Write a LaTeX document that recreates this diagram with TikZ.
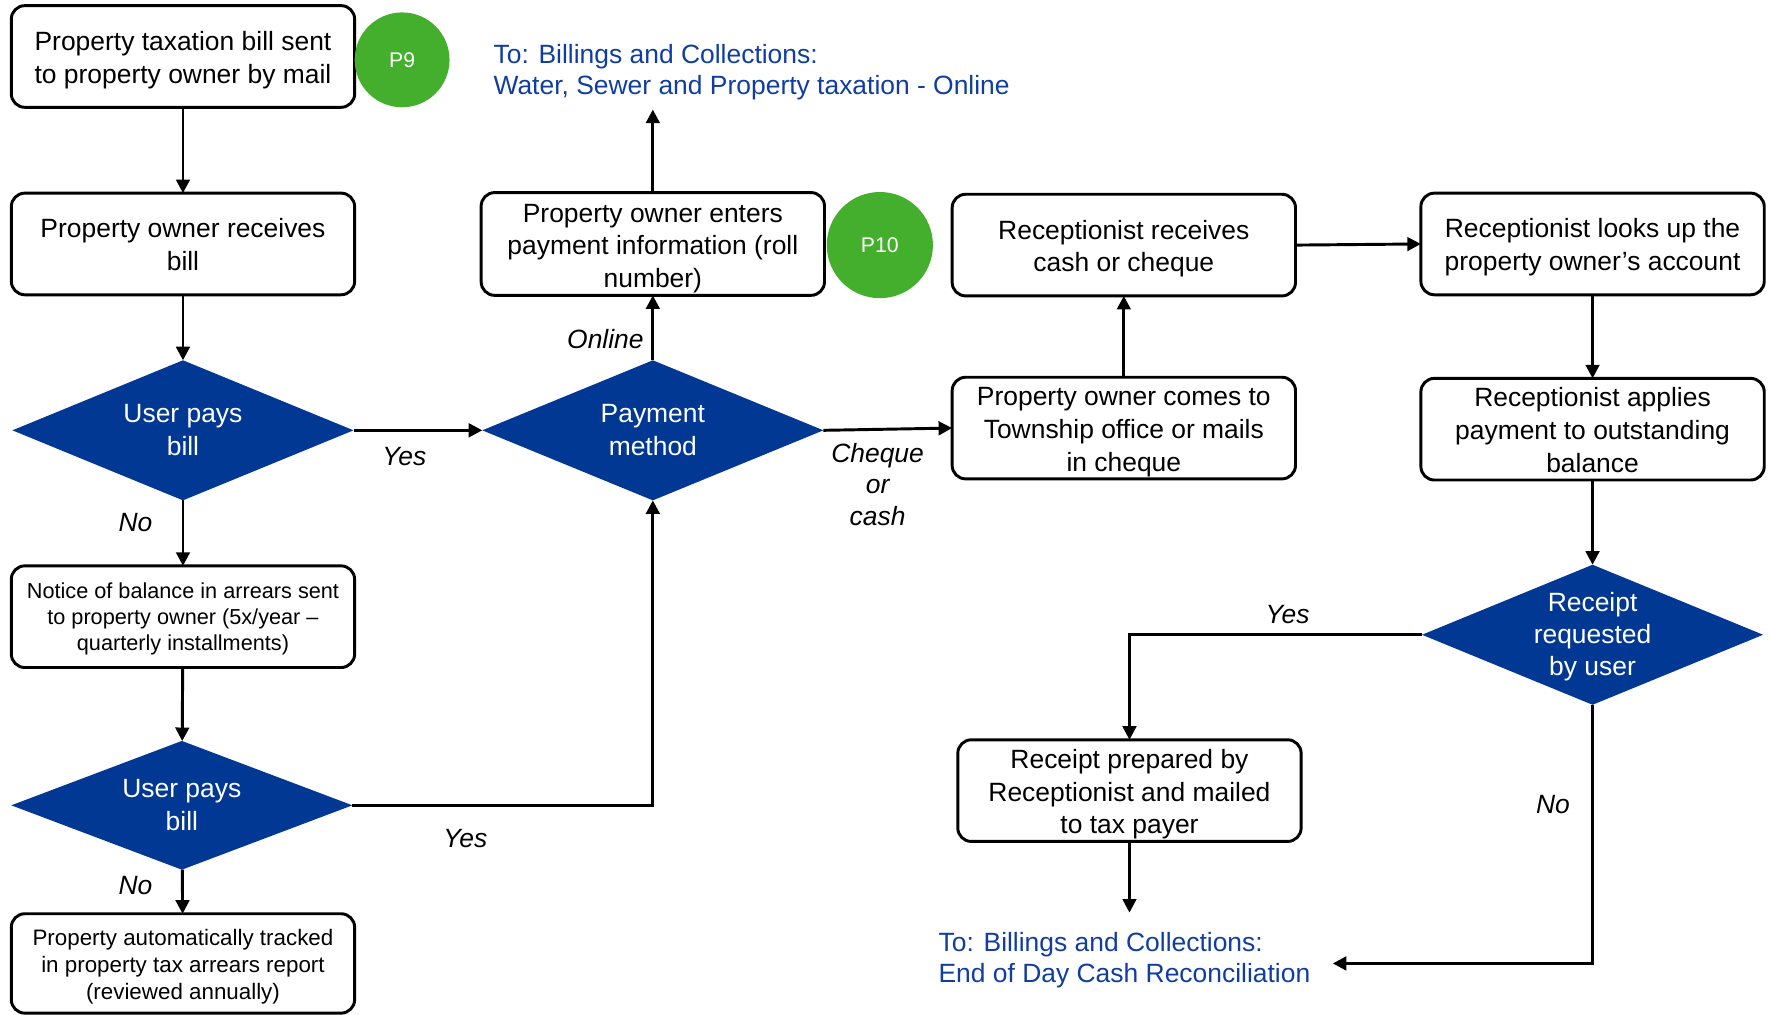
\documentclass[tikz,border=0pt]{standalone}
\usepackage{fontspec}
\setmainfont{Liberation Sans}
\usetikzlibrary{shapes.geometric,arrows.meta}
\definecolor{decblue}{RGB}{0,56,147}
\definecolor{linkblue}{RGB}{16,62,160}
\definecolor{tagreen}{RGB}{67,175,45}
% centred multi-line text, set slightly low as in a text frame
\newcommand\ml[2][1.7pt]{\raisebox{-#1}[\height][\depth]{\begin{tabular}{@{}c@{}}#2\end{tabular}}}
\begin{document}
\begin{tikzpicture}[x=0.5pt,y=-0.5pt,
  every node/.style={inner sep=0pt,outer sep=0pt},
  stepbox/.style={draw=black,line width=1.3pt,rounded corners=6pt,fill=white,
    minimum width=152pt,minimum height=45pt,
    font=\fontsize{11.7}{14.5}\selectfont},
  smallbox/.style={stepbox,font=\fontsize{9.6}{11.4}\selectfont},
  decision/.style={diamond,fill=decblue,text=white,aspect=2.4,
    minimum width=151pt,minimum height=62pt,
    font=\fontsize{11.7}{14.2}\selectfont},
  tag/.style={circle,fill=tagreen,text=white,font=\fontsize{9.4}{11}\selectfont},
  exitnote/.style={text=linkblue,align=left,anchor=west,
    font=\fontsize{11.7}{14}\selectfont},
  lbl/.style={font=\fontsize{11.7}{14}\selectfont\itshape,align=center},
  flow/.style={line width=1.3pt,-{Triangle[length=6pt,width=6pt]}}]
\useasboundingbox (0,0) rectangle (1568,898);

% left column
\node[stepbox] (bill) at (162,50) {\ml{Property taxation bill sent\\to property owner by mail}};
\node[tag,minimum size=42pt] (p9) at (356,53) {P9};
\node[stepbox] (recv) at (162,216) {\ml{Property owner receives\\bill}};
\node[decision] (pay1) at (162,381) {\ml[1pt]{User pays\\bill}};
\node[smallbox] (notice) at (162,546) {\ml[1.2pt]{Notice of balance in arrears sent\\to property owner (5x/year --\\quarterly installments)}};
\node[decision,minimum height=57pt] (pay2) at (161,713) {\ml[1pt]{User pays\\bill}};
\node[smallbox,font=\fontsize{9.9}{12}\selectfont,minimum height=44pt] (track) at (162,853) {\ml{Property automatically tracked\\in property tax arrears report\\(reviewed annually)}};

% online payment
\node[decision] (method) at (578,381) {\ml[1pt]{Payment\\method}};
\node[stepbox,minimum height=45.5pt] (enter) at (578,216) {\ml[1.9pt]{Property owner enters\\payment information (roll\\number)}};
\node[tag,minimum size=47pt] (p10) at (779,217) {P10};
\node[exitnote] (online) at (437,64) {To: Billings and Collections:\\Water, Sewer and Property taxation - Online};
\coordinate (onlineend) at (578,97);

% counter payment
\node[stepbox] (comes) at (995,379) {\ml{Property owner comes to\\Township office or mails\\in cheque}};
\node[stepbox] (cash) at (995,217) {\ml{Receptionist receives\\cash or cheque}};
\node[stepbox] (lookup) at (1410,216) {\ml{Receptionist looks up the\\property owner’s account}};
\node[stepbox] (apply) at (1410,380) {\ml{Receptionist applies\\payment to outstanding\\balance}};
\node[decision,inner sep=-6pt] (receipt) at (1410,562) {\ml[1pt]{Receipt\\requested\\by user}};
\node[stepbox] (mailed) at (1000,700) {\ml{Receipt prepared by\\Receptionist and mailed\\to tax payer}};
\node[exitnote] (eod) at (831,850) {To: Billings and Collections:\\End of Day Cash Reconciliation};
\coordinate (eodend) at (1000,808);
\coordinate (eodno) at (1180,853);

% connectors
\draw[flow] (bill) -- (recv);
\draw[flow] (recv) -- (pay1);
\draw[flow] (pay1.east) -- (method.west);
\draw[flow] (pay1) -- (notice);
\draw[flow] (notice) -- (pay2);
\draw[flow] (pay2) -- (track);
\draw[flow] (pay2.east) -| (method.south);
\draw[flow] (method) -- (enter);
\draw[flow] (enter) -- (onlineend);
\draw[flow] (method.east) -- (comes.west);
\draw[flow] (comes) -- (cash);
\draw[flow] (cash.east) -- (lookup.west);
\draw[flow] (lookup) -- (apply);
\draw[flow] (apply) -- (receipt);
\draw[flow] (receipt.west) -| (mailed.north);
\draw[flow] (mailed) -- (eodend);
\draw[flow] (receipt.south) |- (eodno);

% branch labels
\node[lbl] at (358,404) {Yes};
\node[lbl] at (120,463) {No};
\node[lbl] at (412,742) {Yes};
\node[lbl] at (120,784) {No};
\node[lbl] at (536,300) {Online};
\node[lbl] at (777,429) {Cheque\\or\\cash};
\node[lbl] at (1140,544) {Yes};
\node[lbl] at (1375,712) {No};
\end{tikzpicture}
\end{document}
